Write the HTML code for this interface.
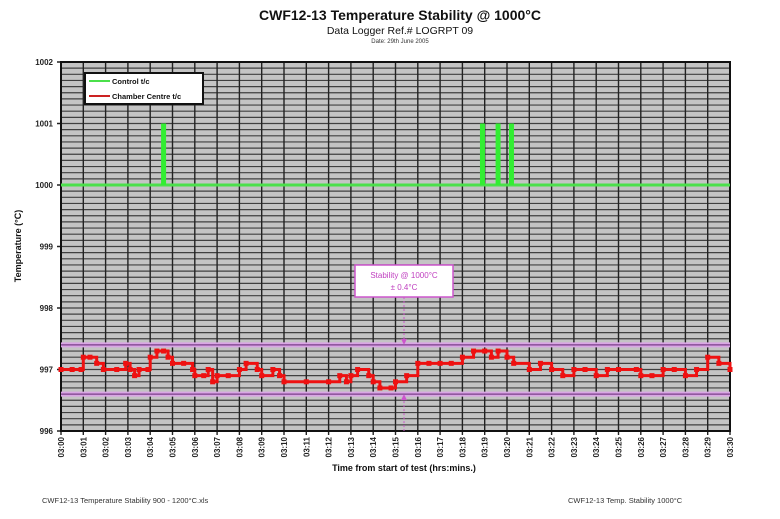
<!DOCTYPE html>
<html><head><meta charset="utf-8">
<style>
body{margin:0;background:#fff;width:780px;height:519px;overflow:hidden;font-family:"Liberation Sans",sans-serif;}
svg{display:block}
</style></head>
<body>
<svg id="chart" width="780" height="519" viewBox="0 0 780 519">
<text x="400" y="20" text-anchor="middle" font-size="14" font-weight="bold" fill="#111">CWF12-13 Temperature Stability @ 1000°C</text>
<text x="400" y="34" text-anchor="middle" font-size="10.5" fill="#111">Data Logger Ref.# LOGRPT 09</text>
<text x="400" y="43" text-anchor="middle" font-size="6" fill="#333">Date: 29th June 2005</text>
<g id="plot"></g>
<text transform="translate(21,246) rotate(-90)" text-anchor="middle" font-size="9" font-weight="bold" fill="#111">Temperature (°C)</text>
<text x="404" y="471" text-anchor="middle" font-size="9" font-weight="bold" fill="#111">Time from start of test (hrs:mins.)</text>
<text x="42" y="503" font-size="7.5" fill="#333">CWF12-13 Temperature Stability 900 - 1200°C.xls</text>
<text x="568" y="503" font-size="7.5" fill="#333">CWF12-13 Temp. Stability 1000°C</text>
</svg>
<script>
const yTicks=[996,997,998,999,1000,1001,1002];
const xTickLabels=["03:00","03:01","03:02","03:03","03:04","03:05","03:06","03:07","03:08","03:09","03:10","03:11","03:12","03:13","03:14","03:15","03:16","03:17","03:18","03:19","03:20","03:21","03:22","03:23","03:24","03:25","03:26","03:27","03:28","03:29","03:30"];
const chamberMinutes=[0,0.5,0.9,1.0,1.3,1.6,1.9,2.5,2.9,3.1,3.3,3.5,3.9,4.0,4.3,4.6,4.8,5.0,5.5,5.9,6.0,6.4,6.6,6.8,7.0,7.5,8.0,8.3,8.8,9.0,9.5,9.8,10.0,11.0,12.0,12.5,12.8,13.0,13.3,13.8,14.0,14.3,14.8,15.0,15.5,16.0,16.5,17.0,17.5,18.0,18.5,19.0,19.3,19.6,20.0,20.3,21.0,21.5,22.0,22.5,23.0,23.5,24.0,24.5,25.0,25.8,26.0,26.5,27.0,27.5,28.0,28.5,29.0,29.5,30.0];
const chamberValues=[997.0,997.0,997.0,997.2,997.2,997.1,997.0,997.0,997.1,997.0,996.9,997.0,997.0,997.2,997.3,997.3,997.2,997.1,997.1,997.0,996.9,996.9,997.0,996.8,996.9,996.9,997.0,997.1,997.0,996.9,997.0,996.9,996.8,996.8,996.8,996.9,996.8,996.9,997.0,996.9,996.8,996.7,996.7,996.8,996.9,997.1,997.1,997.1,997.1,997.2,997.3,997.3,997.2,997.3,997.2,997.1,997.0,997.1,997.0,996.9,997.0,997.0,996.9,997.0,997.0,997.0,996.9,996.9,997.0,997.0,996.9,997.0,997.2,997.1,997.0];
const controlBase=[1000];
const controlSpikeMinutes=[4.6,18.9,19.6,20.2];
const controlSpikeValues=[1001,1001,1001,1001];
const bandLimits=[997.4,996.6];

const L=61,R=730,T=62,B=431;
const X=m=>L+(m/30)*(R-L);
const Y=v=>B-(v-996)/6*(B-T);
const NS='http://www.w3.org/2000/svg';
const g=document.getElementById('plot');
function mk(tag,attrs,parent){const e=document.createElementNS(NS,tag);for(const k in attrs)e.setAttribute(k,attrs[k]);(parent||g).appendChild(e);return e;}

const bg=mk('rect',{x:L,y:T,width:R-L,height:B-T,fill:'#c4c4c4'});


for(let i=1;i<60;i++){
  const yy=Y(996+i*0.1);
  const l=mk('line',{x1:L,x2:R,y1:yy,y2:yy,stroke:'#404040','stroke-width':1.2});
  
  
}
xTickLabels.forEach((t,i)=>{
  const xx=X(i);
  const l=mk('line',{x1:xx,x2:xx,y1:T,y2:B+4,stroke:'#222','stroke-width':1.4});
  
  
  const tx=mk('text',{transform:`translate(${xx+3},${B+6}) rotate(-90)`,'text-anchor':'end','font-size':8,'font-weight':'bold',fill:'#222'});
  tx.textContent=t;
  
  
});
yTicks.forEach(v=>{
  const tx=mk('text',{x:L-8,y:Y(v)+3,'text-anchor':'end','font-size':8,'font-weight':'bold',fill:'#222'});
  tx.textContent=v;
  
  
  mk('line',{x1:L-4,x2:L,y1:Y(v),y2:Y(v),stroke:'#222','stroke-width':1.5});
});
const frame=mk('rect',{x:L,y:T,width:R-L,height:B-T,fill:'none',stroke:'#111','stroke-width':2});



bandLimits.forEach(v=>{
  const b=mk('line',{x1:L,x2:R,y1:Y(v),y2:Y(v),stroke:'#d9a6e4','stroke-width':5});
  
  
  mk('line',{x1:L,x2:R,y1:Y(v),y2:Y(v),stroke:'#7a3f8a','stroke-width':1.2});
});

const cb=mk('line',{x1:L,x2:R,y1:Y(controlBase[0]),y2:Y(controlBase[0]),stroke:'#4be04b','stroke-width':3});


controlSpikeMinutes.forEach((m,i)=>{
  const s=mk('rect',{x:X(m)-2.5,y:Y(controlSpikeValues[i]),width:5,height:Y(controlBase[0])-Y(controlSpikeValues[i]),fill:'#33ee33'});
  
  
});

let d='';
chamberMinutes.forEach((m,i)=>{
  if(i===0)d+=`M${X(m)},${Y(chamberValues[i])}`;
  else d+=`H${X(m)}V${Y(chamberValues[i])}`;
});
const cl=mk('path',{d:d,fill:'none',stroke:'#ee1111','stroke-width':3});


chamberMinutes.forEach((m,i)=>{
  const p=mk('rect',{x:X(m)-2.5,y:Y(chamberValues[i])-2.5,width:5,height:5,fill:'#ee1111'});
  
  
});

const ax=404;
const ann=mk('rect',{x:355,y:265,width:98,height:32,fill:'#fff',stroke:'#cc55cc','stroke-width':1.5});


const a1=mk('text',{x:404,y:278,'text-anchor':'middle','font-size':8,fill:'#c040c0'});a1.textContent='Stability @ 1000°C';


const a2=mk('text',{x:404,y:290,'text-anchor':'middle','font-size':8,fill:'#c040c0'});a2.textContent='± 0.4°C';


mk('line',{x1:ax,x2:ax,y1:297,y2:Y(bandLimits[0])-3,stroke:'#cc55cc','stroke-width':1,'stroke-dasharray':'2,2'});
mk('path',{d:`M${ax-3},${Y(bandLimits[0])-6}L${ax+3},${Y(bandLimits[0])-6}L${ax},${Y(bandLimits[0])}Z`,fill:'#cc55cc'});
mk('line',{x1:ax,x2:ax,y1:Y(bandLimits[1])+3,y2:B,stroke:'#cc55cc','stroke-width':1,'stroke-dasharray':'2,2'});
mk('path',{d:`M${ax-3},${Y(bandLimits[1])+6}L${ax+3},${Y(bandLimits[1])+6}L${ax},${Y(bandLimits[1])}Z`,fill:'#cc55cc'});

const lg=mk('g',{});


mk('rect',{x:85,y:73,width:118,height:31,fill:'#fff',stroke:'#111','stroke-width':2},lg);
mk('line',{x1:89,x2:110,y1:81,y2:81,stroke:'#4be04b','stroke-width':2},lg);
const l1=mk('text',{x:112,y:84,'font-size':7.5,'font-weight':'bold',fill:'#111'},lg);l1.textContent='Control t/c';


mk('line',{x1:89,x2:110,y1:96,y2:96,stroke:'#cc2222','stroke-width':2},lg);
const l2=mk('text',{x:112,y:99,'font-size':7.5,'font-weight':'bold',fill:'#111'},lg);l2.textContent='Chamber Centre t/c';


</script>
</body></html>
